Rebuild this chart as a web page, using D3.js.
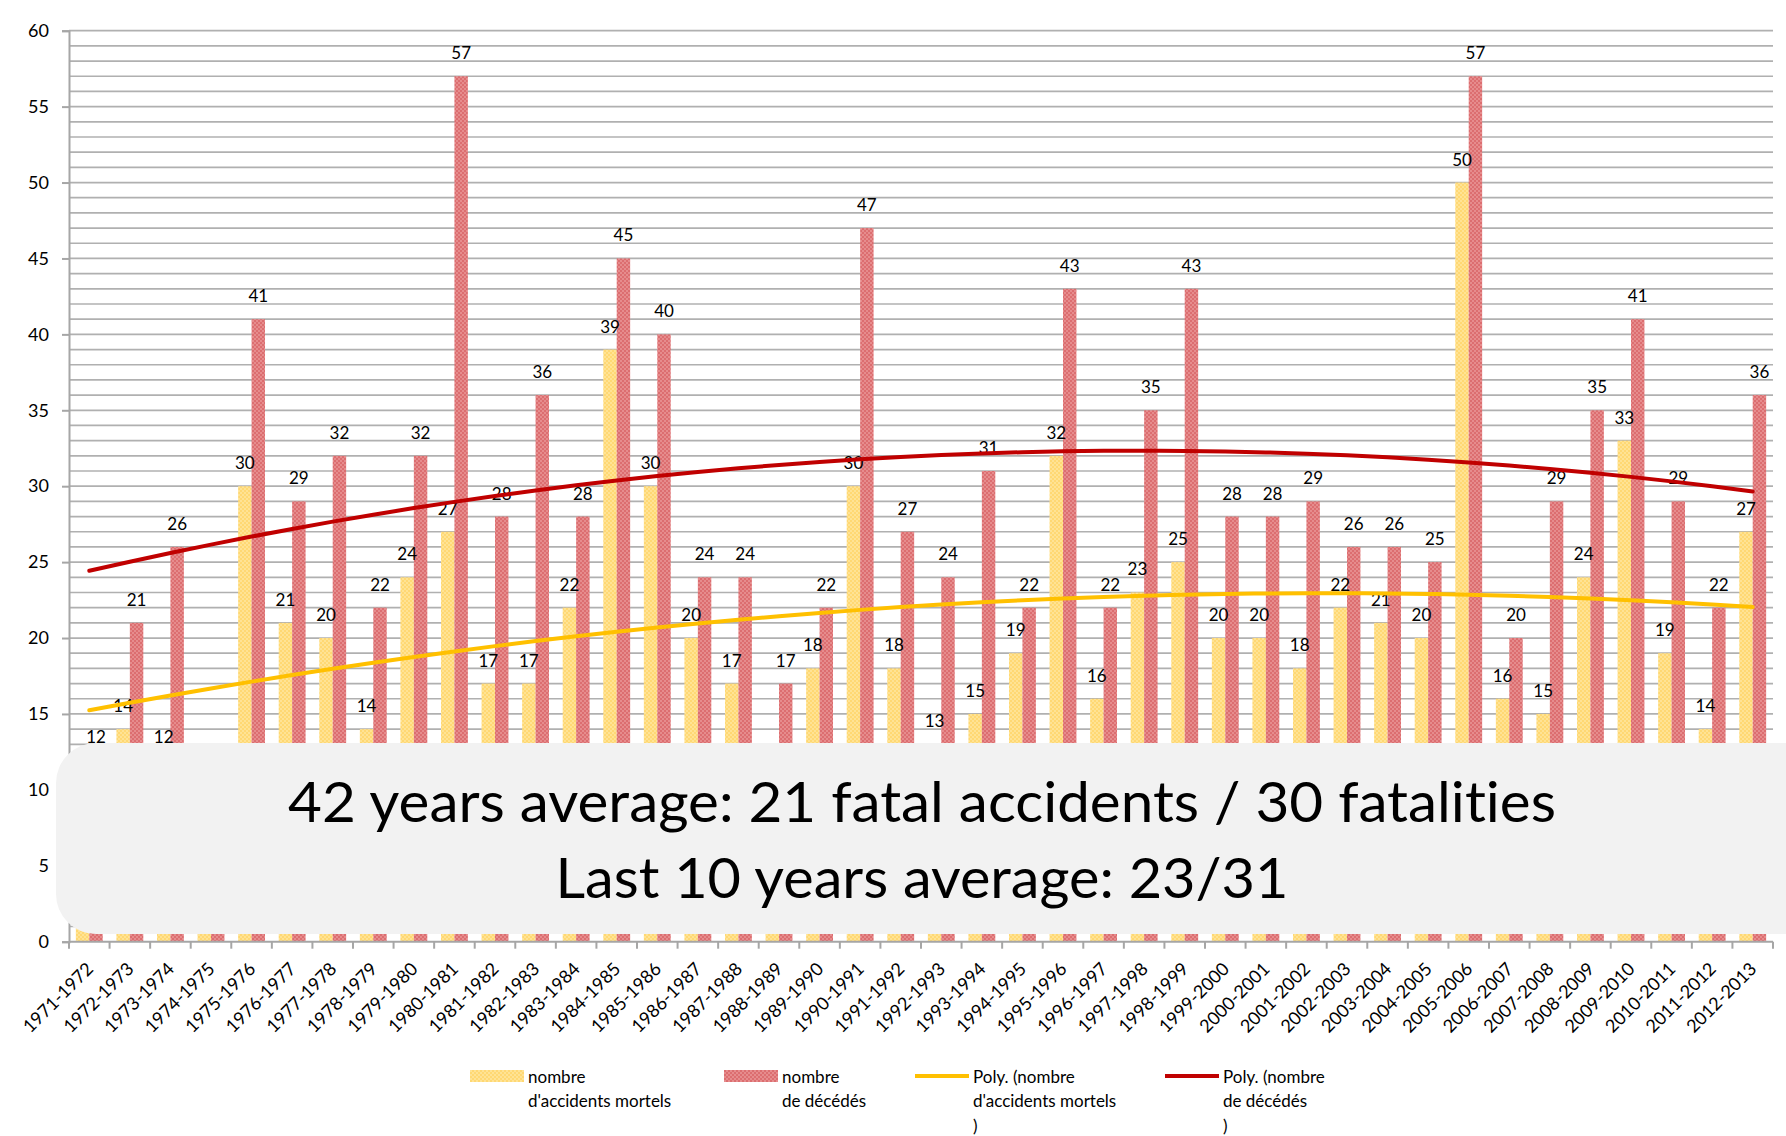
<!DOCTYPE html>
<html><head><meta charset="utf-8">
<script src="https://cdn.jsdelivr.net/npm/d3@7/dist/d3.min.js"></script>
<style>
body{margin:0;background:#fff;}
svg{display:block;}
text{font-family:Lato,"Open Sans",sans-serif;fill:#000;font-variant-ligatures:none;font-feature-settings:"liga" 0,"clig" 0;}
</style>
</head><body>
<svg id="chart" width="1786" height="1136"></svg>
<script>
const categories = ["1971-1972","1972-1973","1973-1974","1974-1975","1975-1976","1976-1977","1977-1978","1978-1979","1979-1980","1980-1981","1981-1982","1982-1983","1983-1984","1984-1985","1985-1986","1986-1987","1987-1988","1988-1989","1989-1990","1990-1991","1991-1992","1992-1993","1993-1994","1994-1995","1995-1996","1996-1997","1997-1998","1998-1999","1999-2000","2000-2001","2001-2002","2002-2003","2003-2004","2004-2005","2005-2006","2006-2007","2007-2008","2008-2009","2009-2010","2010-2011","2011-2012","2012-2013"];
// nombre d'accidents mortels (values hidden behind the note box are estimates)
const accidents = [8,14,12,7,30,21,20,14,24,27,17,17,22,39,30,20,17,11,18,30,18,13,15,19,32,16,23,25,20,20,18,22,21,20,50,16,15,24,33,19,14,27];
// nombre de décédés
const deaths = [12,21,26,10,41,29,32,22,32,57,28,36,28,45,40,24,24,17,22,47,27,24,31,22,43,22,35,43,28,28,29,26,26,25,57,20,29,35,41,29,22,36];
const yTicks = [0,5,10,15,20,25,30,35,40,45,50,55,60];
const seriesNames = [["nombre","d'accidents mortels"],["nombre","de décédés"]];
const trendNames = [["Poly. (nombre","d'accidents mortels",")"],["Poly. (nombre","de décédés",")"]];
const noteLines = ["42 years average: 21 fatal accidents / 30 fatalities","Last 10 years average: 23/31"];

const svg = d3.select("#chart");
const L = 69, R = 1773, T = 30.7, B = 941.7;
const x = d3.scaleBand().domain(categories).range([L, R]).padding(0);
const xs = d3.scaleBand().domain(["a","d"]).range([0, x.bandwidth()]).paddingInner(0).paddingOuter(0.51);
const y = d3.scaleLinear().domain([0, 60]).range([B, T]);

// patterns
const defs = svg.append("defs");
function pat(id, base, alt){
  const p = defs.append("pattern").attr("id", id).attr("patternUnits","userSpaceOnUse").attr("width",4).attr("height",4);
  p.append("rect").attr("width",4).attr("height",4).attr("fill",base);
  p.append("rect").attr("width",2).attr("height",2).attr("fill",alt);
  p.append("rect").attr("x",2).attr("y",2).attr("width",2).attr("height",2).attr("fill",alt);
}
pat("py", "#FFD873", "#FFE394");
pat("pr", "#DC6E70", "#E68C8D");

// gridlines every unit
svg.append("g").selectAll("line").data(d3.range(1, 61)).join("line")
  .attr("x1", L).attr("x2", R).attr("y1", d => y(d)).attr("y2", d => y(d))
  .attr("stroke", "#b0b0b0").attr("stroke-width", 1.7);

// y axis
const ya = svg.append("g").attr("transform", `translate(${L},0)`)
  .call(d3.axisLeft(y).tickValues(yTicks).tickSize(7).tickPadding(13).tickFormat(d3.format("d")));
ya.select(".domain").attr("stroke", "#a6a6a6").attr("stroke-width", 2);
ya.selectAll(".tick line").attr("stroke", "#a6a6a6").attr("stroke-width", 2);
ya.selectAll(".tick text").attr("font-size", 18).attr("font-family", "Lato").attr("fill", "#000");

// bars
const g = svg.append("g");
categories.forEach((c, i) => {
  const vals = [["a", accidents[i], "url(#py)"], ["d", deaths[i], "url(#pr)"]];
  vals.forEach(([k, v, f]) => {
    g.append("rect").attr("x", x(c) + xs(k)).attr("width", xs.bandwidth())
      .attr("y", y(v)).attr("height", B - y(v)).attr("fill", f);
  });
});

// x axis
svg.append("line").attr("x1", L).attr("x2", R).attr("y1", B).attr("y2", B).attr("stroke", "#a6a6a6").attr("stroke-width", 2);
svg.append("g").selectAll("line").data(categories.concat(["__end"])).join("line")
  .attr("x1", d => d === "__end" ? R : x(d)).attr("x2", d => d === "__end" ? R : x(d))
  .attr("y1", B).attr("y2", B + 7).attr("stroke", "#a6a6a6").attr("stroke-width", 2);
svg.append("g").selectAll("text").data(categories).join("text")
  .attr("transform", d => `translate(${x(d) + x.bandwidth()/2 + 5},970) rotate(-45)`)
  .attr("text-anchor", "end").attr("font-size", 18).text(d => d);

// data labels
categories.forEach((c, i) => {
  [["a", accidents[i]], ["d", deaths[i]]].forEach(([k, v]) => {
    g.append("text").attr("x", x(c) + xs(k) + xs.bandwidth()/2).attr("y", y(v) - 17)
      .attr("text-anchor", "middle").attr("font-size", 17).text(v);
  });
});

// polynomial (order 2) trendlines, least squares like the spreadsheet's
function polyFit(vals){
  let S = [0,0,0,0,0], Ty = [0,0,0];
  vals.forEach((v, i) => {
    const t = i + 1;
    for (let k = 0; k < 5; k++) S[k] += Math.pow(t, k);
    for (let k = 0; k < 3; k++) Ty[k] += v * Math.pow(t, k);
  });
  const M = [[S[0],S[1],S[2],Ty[0]],[S[1],S[2],S[3],Ty[1]],[S[2],S[3],S[4],Ty[2]]];
  for (let i = 0; i < 3; i++) {
    for (let j = i + 1; j < 3; j++) {
      const f = M[j][i] / M[i][i];
      for (let k = i; k < 4; k++) M[j][k] -= f * M[i][k];
    }
  }
  const c = [0,0,0];
  for (let i = 2; i >= 0; i--) {
    let s = M[i][3];
    for (let k = i + 1; k < 3; k++) s -= M[i][k] * c[k];
    c[i] = s / M[i][i];
  }
  return t => c[0] + c[1]*t + c[2]*t*t;
}
const line = d3.line().x(d => d[0]).y(d => y(d[1])).curve(d3.curveMonotoneX);
[[accidents, "#FFC000"], [deaths, "#C00000"]].forEach(([vals, col]) => {
  const f = polyFit(vals);
  const pts = categories.map((c, i) => [x(c) + x.bandwidth()/2, f(i + 1)]);
  svg.append("path").attr("d", line(pts)).attr("fill", "none").attr("stroke", col).attr("stroke-width", 4).attr("stroke-linecap", "round");
});

// note box
svg.append("rect").attr("x", 56).attr("y", 743).attr("width", 1790).attr("height", 191).attr("rx", 40).attr("ry", 40).attr("fill", "#F2F2F2");
const noteY = [821.7, 898];
const noteW = [1268, 733];
noteLines.forEach((t, i) => {
  svg.append("text").attr("x", 922).attr("y", noteY[i]).attr("text-anchor", "middle")
    .attr("font-size", 56).attr("textLength", noteW[i]).attr("lengthAdjust", "spacingAndGlyphs").text(t);
});

// legend
const lg = svg.append("g");
const legendItems = [
  {type: "bar", fill: "url(#py)", lines: seriesNames[0], x: 470},
  {type: "bar", fill: "url(#pr)", lines: seriesNames[1], x: 724},
  {type: "line", stroke: "#FFC000", lines: trendNames[0], x: 915},
  {type: "line", stroke: "#C00000", lines: trendNames[1], x: 1165}
];
legendItems.forEach(it => {
  if (it.type === "bar") {
    lg.append("rect").attr("x", it.x).attr("y", 1070).attr("width", 54).attr("height", 12).attr("fill", it.fill);
  } else {
    lg.append("line").attr("x1", it.x).attr("x2", it.x + 54).attr("y1", 1076).attr("y2", 1076).attr("stroke", it.stroke).attr("stroke-width", 4);
  }
  it.lines.forEach((s, j) => {
    lg.append("text").attr("x", it.x + 58).attr("y", 1083 + j * 24.3).attr("font-size", 17).text(s);
  });
});
</script>
</body></html>
